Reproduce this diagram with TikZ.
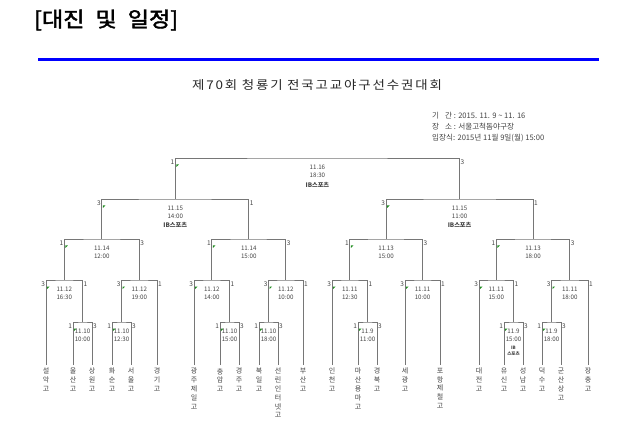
\documentclass[tikz,border=0pt]{standalone}
\usepackage{fontspec}
\setmainfont{Noto Sans CJK KR}
\newfontfamily\titlefont[AutoFakeBold=2]{Noto Sans CJK KR}
\newfontfamily\subfont[LetterSpace=14]{Noto Sans CJK KR}
\usetikzlibrary{calc}
\definecolor{linegray}{HTML}{767676}
\definecolor{txt}{HTML}{444444}
\definecolor{markgreen}{HTML}{1E8C1E}
\tikzset{
  br/.style={draw=linegray, line width=0.8pt},
  lbl/.style={font=\fontsize{6.5}{7}\selectfont, text=txt, inner sep=0pt},
  mtext/.style={font=\fontsize{6.2}{8}\selectfont, text=txt, align=center, inner sep=0pt, anchor=north},
  team/.style={font=\fontsize{7}{8.8}\selectfont, text=txt, align=center, inner xsep=0pt, inner ysep=3pt, anchor=north},
  info/.style={anchor=west, inner sep=0pt, font=\fontsize{7.6}{8}\selectfont, text=txt},
  gmark/.style={fill=markgreen}
}
\newcommand\bmatch[7]{%
  \draw[br] (#2) |- (#1) -| (#3);
  \node[lbl, anchor=east] (#1-l) at ($(#2 |- #1)+(-0.8,4.5)$) {#4};
  \node[lbl, anchor=west] (#1-r) at ($(#3 |- #1)+(0.8,4.5)$) {#5};
  \fill[gmark] ($(#2 |- #1)+(1,6.5)$) -- ++(2.5,0) -- ++(-2.5,2.5) -- cycle;
  \node[mtext] (#1-t) at ($(#1)+(0,7)$) {#6\\#7};
}
\begin{document}
\begin{tikzpicture}[x=1pt,y=-1pt]
\useasboundingbox (0,0) rectangle (630,433);
\fill[white] (0,0) rectangle (630,433);

% header
\node[anchor=west, inner sep=0pt, font=\titlefont\bfseries\fontsize{21}{22}\selectfont] (title) at (34,20) {\scalebox{1.1}[1]{[대진\hspace{10pt}및\hspace{10pt}일정]}};
\coordinate (bl1) at (38,60);
\coordinate (bl2) at (599,60);
\draw[blue, line width=3pt] (bl1) -- (bl2);
\node[inner sep=0pt, font=\subfont\fontsize{12}{13}\selectfont, text=black!85] (sub) at (317,85) {\scalebox{1.12}[1]{제70회\hspace{4pt}청룡기\hspace{4pt}전국고교야구선수권대회}};
\node[info] (i1) at (432,116) {기\hspace{6pt}간 : 2015. 11. 9 \textasciitilde{} 11. 16};
\node[info] (i2) at (432,127) {장\hspace{6pt}소 : 서울고척돔야구장};
\node[info] (i3) at (432,138) {입장식: 2015년 11월 9일(월) 15:00};

% teams
\node[team] (t1) at (46,365) {설\\악\\고};
\node[team] (t2) at (73,365) {울\\산\\고};
\node[team] (t3) at (92,365) {상\\원\\고};
\node[team] (t4) at (112,365) {화\\순\\고};
\node[team] (t5) at (131,365) {서\\울\\고};
\node[team] (t6) at (157,365) {경\\기\\고};
\node[team] (t7) at (194,365) {광\\주\\제\\일\\고};
\node[team] (t8) at (220,365) {충\\암\\고};
\node[team] (t9) at (239,365) {경\\주\\고};
\node[team] (t10) at (259,365) {북\\일\\고};
\node[team] (t11) at (278,365) {선\\린\\인\\터\\넷\\고};
\node[team] (t12) at (303,365) {부\\산\\고};
\node[team] (t13) at (332,365) {인\\천\\고};
\node[team] (t14) at (358,365) {마\\산\\용\\마\\고};
\node[team] (t15) at (377,365) {경\\북\\고};
\node[team] (t16) at (405,365) {세\\광\\고};
\node[team] (t17) at (440,365) {포\\항\\제\\철\\고};
\node[team] (t18) at (479,365) {대\\전\\고};
\node[team] (t19) at (504,365) {유\\신\\고};
\node[team] (t20) at (523,365) {성\\남\\고};
\node[team] (t21) at (542,365) {덕\\수\\고};
\node[team] (t22) at (561,365) {군\\산\\상\\고};
\node[team] (t23) at (588,365) {장\\충\\고};

% match points
\coordinate (r32a) at (82.5,322);
\coordinate (r16a) at (64.25,280);
\coordinate (r32b) at (121.5,322);
\coordinate (r16b) at (139.25,280);
\coordinate (qf1) at (101.75,239);
\coordinate (r32c) at (229.5,322);
\coordinate (r16c) at (211.75,280);
\coordinate (r32d) at (268.5,322);
\coordinate (r16d) at (285.75,280);
\coordinate (qf2) at (248.75,239);
\coordinate (sf1) at (175.25,199);
\coordinate (r32e) at (367.5,322);
\coordinate (r16e) at (349.75,280);
\coordinate (r16f) at (422.5,280);
\coordinate (qf3) at (386.1,239);
\coordinate (r32g) at (513.5,322);
\coordinate (r16g) at (496.25,280);
\coordinate (r32h) at (551.5,322);
\coordinate (r16h) at (569.75,280);
\coordinate (qf4) at (533,239);
\coordinate (sf2) at (459.6,199);
\coordinate (fin) at (317.4,158);

% matches
\bmatch{r32a}{t2.north}{t3.north}{1}{3}{11.10}{10:00}
\bmatch{r16a}{t1.north}{r32a}{3}{1}{11.12}{16:30}
\bmatch{r32b}{t4.north}{t5.north}{1}{3}{11.10}{12:30}
\bmatch{r16b}{r32b}{t6.north}{3}{1}{11.12}{19:00}
\bmatch{qf1}{r16a}{r16b}{1}{3}{11.14}{12:00}
\bmatch{r32c}{t8.north}{t9.north}{1}{3}{11.10}{15:00}
\bmatch{r16c}{t7.north}{r32c}{3}{1}{11.12}{14:00}
\bmatch{r32d}{t10.north}{t11.north}{1}{3}{11.10}{18:00}
\bmatch{r16d}{r32d}{t12.north}{3}{1}{11.12}{10:00}
\bmatch{qf2}{r16c}{r16d}{1}{3}{11.14}{15:00}
\bmatch{sf1}{qf1}{qf2}{3}{1}{11.15}{14:00\\[1pt]{\bfseries IB스포츠}}
\bmatch{r32e}{t14.north}{t15.north}{1}{3}{11.9}{11:00}
\bmatch{r16e}{t13.north}{r32e}{3}{1}{11.11}{12:30}
\bmatch{r16f}{t16.north}{t17.north}{3}{1}{11.11}{10:00}
\bmatch{qf3}{r16e}{r16f}{1}{3}{11.13}{15:00}
\bmatch{r32g}{t19.north}{t20.north}{1}{3}{11.9}{15:00}
\bmatch{r16g}{t18.north}{r32g}{3}{1}{11.11}{15:00}
\bmatch{r32h}{t21.north}{t22.north}{1}{3}{11.9}{18:00}
\bmatch{r16h}{r32h}{t23.north}{3}{1}{11.11}{18:00}
\bmatch{qf4}{r16g}{r16h}{1}{3}{11.13}{18:00}
\bmatch{sf2}{qf3}{qf4}{3}{1}{11.15}{11:00\\[1pt]{\bfseries IB스포츠}}
\bmatch{fin}{sf1}{sf2}{1}{3}{11.16}{18:30\\[2pt]{\bfseries IB스포츠}}

\node[mtext, font=\bfseries\fontsize{4.5}{6}\selectfont, anchor=north] (r32g-ib) at ($(r32g-t.south)+(0,4)$) {IB\\스포츠};
\end{tikzpicture}
\end{document}
